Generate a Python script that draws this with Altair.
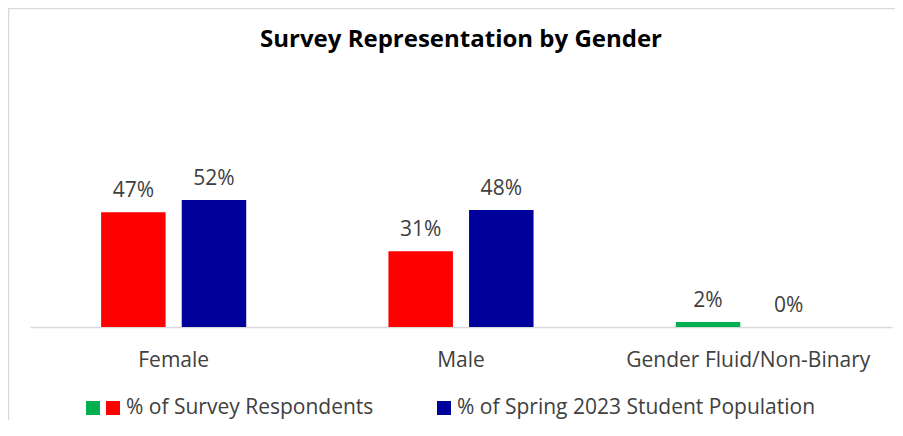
import altair as alt
import pandas as pd

title_text = "Survey Representation by Gender"
categories = ["Female", "Male", "Gender Fluid/Non-Binary"]
series = ["% of Survey Respondents", "% of Spring 2023 Student Population"]
survey_values = [0.47, 0.31, 0.02]
population_values = [0.52, 0.48, 0.00]
survey_colors = ["#FF0000", "#FF0000", "#00B050"]
population_color = "#00009A"
legend_labels = ["% of Survey Respondents", "% of Spring 2023 Student Population"]

rows = []
for i, c in enumerate(categories):
    rows.append({"category": c, "series": series[0], "value": survey_values[i], "color": survey_colors[i]})
    rows.append({"category": c, "series": series[1], "value": population_values[i], "color": population_color})
df = pd.DataFrame(rows)

FONT = "Open Sans"
TXT = "#404040"

base = alt.Chart(df).encode(
    x=alt.X(
        "category:N",
        sort=categories,
        scale=alt.Scale(paddingInner=0.495, paddingOuter=0.2475),
        axis=alt.Axis(
            title=None, labelAngle=0, ticks=False, domainColor="#D9D9D9", domainWidth=1.5,
            labelFont=FONT, labelFontSize=21, labelColor=TXT, labelPadding=39,
            labelBaseline="alphabetic", labelFlush=False, labelOverlap=False, labelLimit=0,
        ),
    ),
    xOffset=alt.XOffset("series:N", sort=series, scale=alt.Scale(paddingInner=0.2, paddingOuter=0)),
    y=alt.Y("value:Q", scale=alt.Scale(domain=[0, 1]), axis=None),
)

bars = base.mark_bar().encode(color=alt.Color("color:N", scale=None))
labels = base.mark_text(dy=-15, baseline="alphabetic", font=FONT, fontSize=21, color=TXT).encode(
    text=alt.Text("value:Q", format=".0%")
)

one = pd.DataFrame({"k": [0]})
title_mark = alt.Chart(pd.DataFrame({"t": [title_text]})).mark_text(
    align="center", baseline="alphabetic", font=FONT, fontSize=24, fontWeight="bold", color="#000000"
).encode(x=alt.value(431), y=alt.value(-36), text="t:N")

leg_green = alt.Chart(one).mark_rect(color="#00B050").encode(
    x=alt.value(56), x2=alt.value(70), y=alt.value(318), y2=alt.value(332))
leg_red = alt.Chart(one).mark_rect(color="#FF0000").encode(
    x=alt.value(76), x2=alt.value(90), y=alt.value(318), y2=alt.value(332))
leg_navy = alt.Chart(one).mark_rect(color=population_color).encode(
    x=alt.value(407), x2=alt.value(421), y=alt.value(318), y2=alt.value(332))
leg_t1 = alt.Chart(pd.DataFrame({"label": [legend_labels[0]]})).mark_text(
    align="left", baseline="middle", font=FONT, fontSize=21, color=TXT).encode(
    x=alt.value(96), y=alt.value(325), text="label:N")
leg_t2 = alt.Chart(pd.DataFrame({"label": [legend_labels[1]]})).mark_text(
    align="left", baseline="middle", font=FONT, fontSize=21, color=TXT).encode(
    x=alt.value(427), y=alt.value(325), text="label:N")

frame_top = alt.Chart(one).mark_rule(color="#D9D9D9", strokeWidth=1.5).encode(
    x=alt.value(-22), x2=alt.value(880), y=alt.value(-74.5))
frame_left = alt.Chart(one).mark_rule(color="#D9D9D9", strokeWidth=1.5).encode(
    x=alt.value(-21.5), y=alt.value(-75), y2=alt.value(340))

chart = alt.layer(
    bars, labels, title_mark, leg_green, leg_red, leg_navy, leg_t1, leg_t2, frame_top, frame_left
).properties(
    width=862,
    height=244,
    padding={"left": 22, "top": 75, "right": 3, "bottom": 93},
    autosize=alt.AutoSizeParams(type="none"),
).configure_view(stroke=None)

chart.save("out.html", embed_options={"renderer": "svg", "actions": False})
